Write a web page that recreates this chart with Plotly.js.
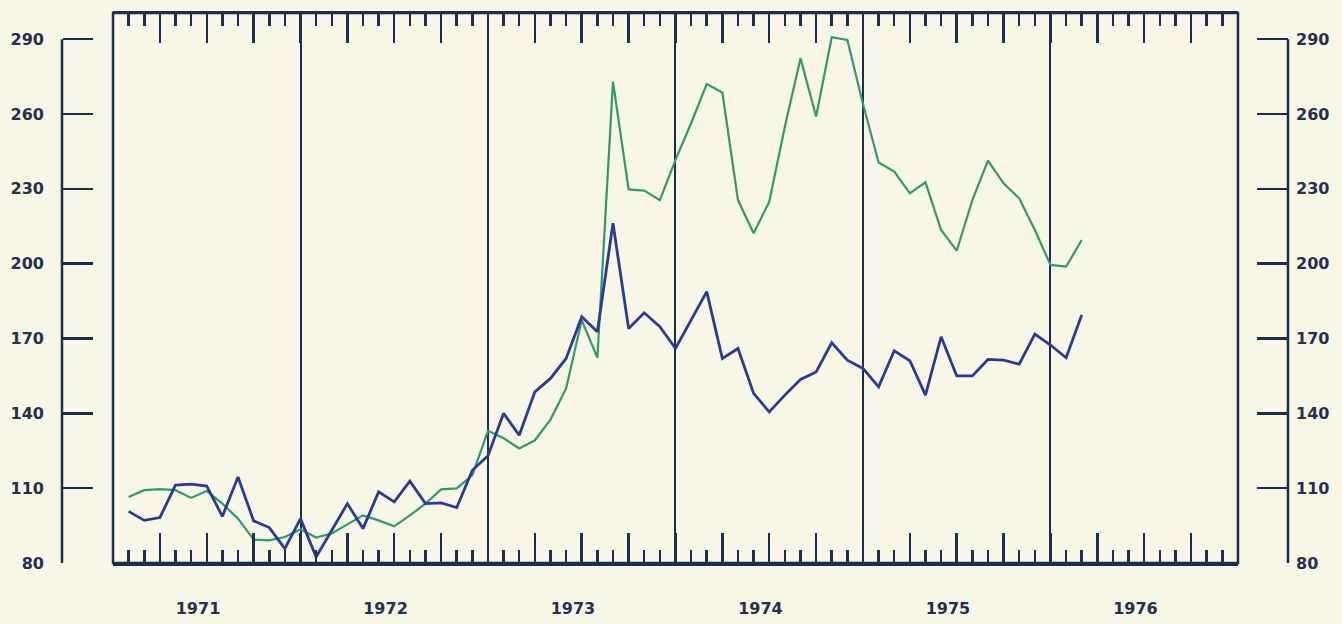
<!DOCTYPE html>
<html>
<head>
<meta charset="utf-8">
<script src="https://cdn.plot.ly/plotly-3.0.1.min.js"></script>
<style>
  html, body { margin: 0; padding: 0; background: #f8f6e6; }
  #chart { width: 1342px; height: 624px; }
</style>
</head>
<body>
<div id="chart"></div>
<script>
// Month index counted from January 1971 (month boundaries)
const months = [1,2,3,4,5,6,7,8,9,10,11,12,13,14,15,16,17,18,19,20,21,22,23,24,25,26,27,28,29,30,
  31,32,33,34,35,36,37,38,39,40,41,42,43,44,45,46,47,48,49,50,51,52,53,54,55,56,57,58,59,60,61,62];

const blueSeries = [100.7,97.1,98.2,111.2,111.6,110.8,98.7,114.5,96.9,94.2,85.8,97.8,
  82.4,93,103.8,93.8,108.5,104.5,112.8,103.8,104.1,102.2,117.2,123,
  140,131.2,148.6,154,162,178.7,172.7,216.2,174,180.3,174.7,166,
  177.4,188.8,162,166,148,140.6,147.3,153.6,156.6,168.3,161.3,158,
  150.6,165.1,161.1,147.3,170.7,155,155,161.6,161.3,159.7,171.8,167.4,
  162.3,179.4];

const greenSeries = [106.5,109.2,109.6,109.2,106.1,108.9,103.8,97.8,89.4,89.1,90.4,93.5,
  90.2,91.8,95.5,99.1,97.1,94.7,99.1,103.8,109.5,109.9,115.2,133,
  130,125.9,129.2,137.5,150,177.4,162.3,273,229.8,229.3,225.5,241.6,
  256.3,272,268.6,225.5,212.2,224.8,254.9,282.4,259,290.8,289.7,264,
  240.6,236.9,228.2,232.6,213.5,205.2,225.5,241.3,232.2,226.2,213.5,199.5,
  198.8,209.5];

const yearLabels = ['1971','1972','1973','1974','1975','1976'];
const yearStarts = [0,12,24,36,48,60];
const yTicks = [80,110,140,170,200,230,260,290];

const ink = '#1f2d4c';
const textInk = '#27304a';
const font = {family: 'DejaVu Sans', size: 16, color: textInk, weight: 'bold'};

const traces = [
  {x: months, y: greenSeries, xaxis: 'x', yaxis: 'y', type: 'scatter', mode: 'lines',
   line: {color: '#2f9b6d', width: 2.2}, hoverinfo: 'skip'},
  {x: months, y: blueSeries, xaxis: 'x2', yaxis: 'y2', type: 'scatter', mode: 'lines',
   line: {color: '#2c3a94', width: 2.8}, hoverinfo: 'skip'}
];

const xRange = [0, 72];
const yRange = [80, 300.5];

const layout = {
  width: 1342, height: 624,
  margin: {l: 62, r: 54, t: 13, b: 61},
  paper_bgcolor: '#f8f6e6', plot_bgcolor: '#f8f6e6',
  showlegend: false,
  font: font,
  xaxis: {
    domain: [0.0416, 0.9592], range: xRange, anchor: 'y',
    tickmode: 'linear', tick0: 0, dtick: 3,
    ticks: 'inside', ticklen: 30, tickwidth: 2.5, tickcolor: ink,
    minor: {dtick: 1, tick0: 0, ticks: 'inside', ticklen: 13, tickwidth: 2.5, tickcolor: ink, showgrid: false},
    showline: true, linewidth: 2.5, linecolor: ink, mirror: 'ticks',
    showticklabels: false, showgrid: false, zeroline: false
  },
  xaxis2: {
    overlaying: 'x', anchor: 'y', side: 'bottom', range: xRange,
    tickmode: 'array', tickvals: yearStarts, ticktext: yearLabels,
    ticks: '', showline: false, zeroline: false,
    showgrid: true, gridcolor: ink, gridwidth: 2,
    tickfont: font, ticklabelstandoff: 34, ticklabelshift: 85
  },
  yaxis: {
    range: yRange, anchor: 'free', position: 0, side: 'left',
    tickmode: 'array', tickvals: yTicks,
    ticks: 'inside', ticklen: 30, tickwidth: 2.5, tickcolor: ink,
    showline: false, showgrid: false, zeroline: false,
    tickfont: font, ticklabelstandoff: 18
  },
  yaxis2: {
    overlaying: 'y', anchor: 'free', position: 1, side: 'right', range: yRange,
    tickmode: 'array', tickvals: yTicks,
    ticks: 'inside', ticklen: 31, tickwidth: 2.5, tickcolor: ink,
    showline: false, showgrid: false, zeroline: false,
    tickfont: font, ticklabelstandoff: 7
  },
  shapes: [
    {type: 'rect', xref: 'x domain', yref: 'y domain', x0: 0, x1: 1, y0: 0, y1: 1,
     line: {color: ink, width: 2.5}, layer: 'above'},
    {type: 'line', xref: 'paper', yref: 'y', x0: 0, x1: 0, y0: yTicks[0], y1: yTicks[yTicks.length-1],
     line: {color: ink, width: 2.5}},
    {type: 'line', xref: 'paper', yref: 'y', x0: 1, x1: 1, y0: yTicks[0], y1: yTicks[yTicks.length-1],
     line: {color: ink, width: 2.5}}
  ]
};

Plotly.newPlot('chart', traces, layout, {staticPlot: true, displayModeBar: false});
</script>
</body>
</html>
